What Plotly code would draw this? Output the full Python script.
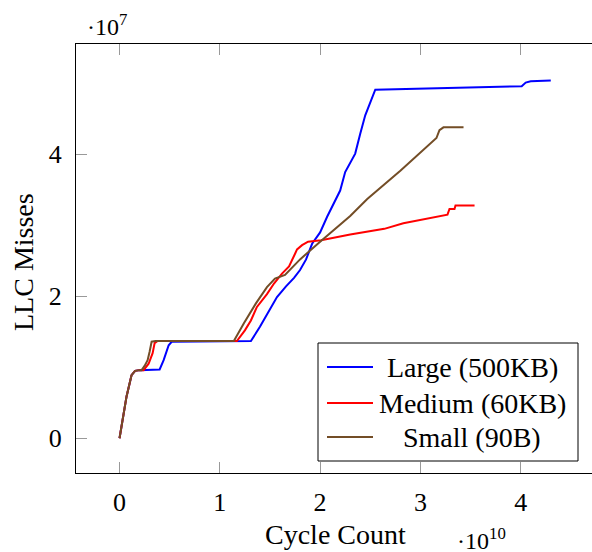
import plotly.graph_objects as go

# Data: cycles in units of 1e10, LLC misses in units of 1e7
large_cycles = [0, 0.07, 0.12, 0.155, 0.20, 0.40, 0.44, 0.49, 0.52, 1.31, 1.40, 1.50, 1.57, 1.66, 1.74,
                1.80, 1.86, 1.92, 2.00, 2.07, 2.12, 2.20, 2.25, 2.35, 2.40, 2.45, 2.55, 3.43, 4.01,
                4.05, 4.10, 4.30]
large_misses = [0, 0.59, 0.89, 0.95, 0.96, 0.97, 1.10, 1.31, 1.36, 1.37, 1.57, 1.82, 1.99, 2.14, 2.26,
                2.37, 2.52, 2.74, 2.90, 3.12, 3.26, 3.49, 3.75, 4.01, 4.29, 4.55, 4.91, 4.94, 4.96,
                5.01, 5.03, 5.04]

medium_cycles = [0, 0.07, 0.12, 0.155, 0.20, 0.24, 0.29, 0.33, 0.35, 0.38, 1.17, 1.25, 1.31, 1.37,
                 1.47, 1.54, 1.62, 1.69, 1.75, 1.77, 1.82, 1.88, 2.01, 2.30, 2.64, 2.83, 3.27, 3.29,
                 3.34, 3.35, 3.54]
medium_misses = [0, 0.59, 0.89, 0.95, 0.96, 0.96, 1.05, 1.20, 1.34, 1.37, 1.37, 1.52, 1.66, 1.85,
                 2.03, 2.18, 2.32, 2.42, 2.60, 2.66, 2.72, 2.77, 2.79, 2.87, 2.95, 3.03, 3.15, 3.23,
                 3.23, 3.28, 3.28]

small_cycles = [0, 0.07, 0.12, 0.155, 0.20, 0.22, 0.25, 0.28, 0.30, 0.32, 0.36, 1.14, 1.24, 1.34,
                1.36, 1.47, 1.55, 1.65, 1.80, 2.00, 2.30, 2.47, 2.80, 3.16, 3.19, 3.23, 3.43]
small_misses = [0, 0.59, 0.89, 0.95, 0.96, 0.96, 1.02, 1.10, 1.22, 1.36, 1.37, 1.37, 1.62, 1.85,
                1.90, 2.13, 2.25, 2.30, 2.52, 2.77, 3.13, 3.37, 3.77, 4.23, 4.34, 4.38, 4.38]

series_names = ["Large (500KB)", "Medium (60KB)", "Small (90B)"]
series_colors = ["#0000ff", "#ff0000", "#734d26"]

x_ticks = [0, 1, 2, 3, 4]
y_ticks = [0, 2, 4]

FONT = "Liberation Serif, DejaVu Serif, serif"
W, H = 592, 552
ML, MR, MT, MB = 76, 0, 44, 79
PW, PH = W - ML - MR, H - MT - MB


def px(xp):
    return (xp - ML) / PW


def py(yp):
    return (H - MB - yp) / PH


fig = go.Figure()
for xs, ys, name, col in zip([large_cycles, medium_cycles, small_cycles],
                             [large_misses, medium_misses, small_misses],
                             series_names, series_colors):
    fig.add_trace(go.Scatter(x=xs, y=ys, mode="lines", name=name,
                             line=dict(color=col, width=2), showlegend=False))

yrange = [-0.489, 5.554]
fig.update_layout(
    width=W, height=H,
    margin=dict(l=ML, r=MR, t=MT, b=MB, pad=0),
    paper_bgcolor="white", plot_bgcolor="white",
    font=dict(family=FONT, size=26, color="black"),
    xaxis=dict(range=[-0.434, 4.711], tickvals=x_ticks, ticks="inside", ticklen=11,
               tickcolor="#999999", tickwidth=1, showline=True, linecolor="black", linewidth=1,
               mirror="ticks", showgrid=False, zeroline=False, ticklabelstandoff=6,
               tickfont=dict(family=FONT, size=26)),
    yaxis=dict(range=yrange, tickvals=y_ticks, ticks="inside", ticklen=11,
               tickcolor="#999999", tickwidth=1, showline=True, linecolor="black", linewidth=1,
               mirror=False, showgrid=False, zeroline=False, ticklabelstandoff=8,
               tickfont=dict(family=FONT, size=26)),
    yaxis2=dict(range=yrange, tickvals=y_ticks, ticks="inside", ticklen=11,
                tickcolor="#999999", tickwidth=1, overlaying="y", side="right", anchor="x",
                showline=False, showgrid=False, zeroline=False, showticklabels=False),
)

ann = []
ann.append(dict(text="Cycle Count", x=px(335), y=py(534), xref="paper", yref="paper",
                showarrow=False, xanchor="center", yanchor="middle",
                font=dict(family=FONT, size=28)))
ann.append(dict(text="LLC Misses", x=px(23), y=py(262), xref="paper", yref="paper",
                showarrow=False, xanchor="center", yanchor="middle", textangle=-90,
                font=dict(family=FONT, size=28)))
ann.append(dict(text="·10<sup>7</sup>", x=px(85), y=py(25), xref="paper", yref="paper",
                showarrow=False, xanchor="left", yanchor="middle",
                font=dict(family=FONT, size=24)))
ann.append(dict(text="·10<sup>10</sup>", x=px(455), y=py(539), xref="paper", yref="paper",
                showarrow=False, xanchor="left", yanchor="middle",
                font=dict(family=FONT, size=24)))

shapes = []
# custom legend box
shapes.append(dict(type="rect", xref="paper", yref="paper", x0=px(318), x1=px(578),
                   y0=py(461), y1=py(343), line=dict(color="black", width=1),
                   fillcolor="white", layer="above"))
legend_y = [367, 403, 437]
for name, col, ly in zip(series_names, series_colors, legend_y):
    shapes.append(dict(type="line", xref="paper", yref="paper", x0=px(327), x1=px(373),
                       y0=py(ly), y1=py(ly), line=dict(color=col, width=2), layer="above"))
    ann.append(dict(text=name, x=px(472), y=py(ly), xref="paper", yref="paper",
                    showarrow=False, xanchor="center", yanchor="middle",
                    font=dict(family=FONT, size=28)))

fig.update_layout(annotations=ann, shapes=shapes)
fig.write_html("out.html", config={"displayModeBar": False},
               post_script="document.body.style.margin='0';document.body.style.padding='0';"
                           "document.body.style.overflow='hidden';")
